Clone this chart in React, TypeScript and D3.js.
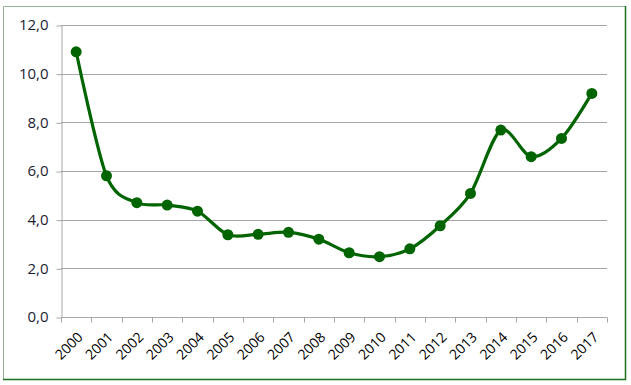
import React, { useEffect, useRef } from 'react';
import * as d3 from 'd3';

const years = ['2000', '2001', '2002', '2003', '2004', '2005', '2006', '2007', '2008',
  '2009', '2010', '2011', '2012', '2013', '2014', '2015', '2016', '2017'];
const values = [10.9, 5.8, 4.7, 4.6, 4.35, 3.38, 3.4, 3.48, 3.2,
  2.64, 2.48, 2.8, 3.75, 5.08, 7.68, 6.59, 7.34, 9.19];
const yTicks = [0, 2, 4, 6, 8, 10, 12];

const width = 631;
const height = 385;
const margin = { top: 25, right: 24, bottom: 68, left: 61 };

const App: React.FC = () => {
  const svgRef = useRef<SVGSVGElement>(null);

  useEffect(() => {
    if (!svgRef.current) return;
    const svg = d3.select(svgRef.current);
    svg.selectAll('*').remove();

    const innerWidth = width - margin.left - margin.right;
    const innerHeight = height - margin.top - margin.bottom;

    // frame
    svg.append('line').attr('x1', 3.5).attr('y1', 6.5).attr('x2', 625.5).attr('y2', 6.5)
      .attr('stroke', '#94b494').attr('stroke-width', 1);
    svg.append('line').attr('x1', 3.5).attr('y1', 6.5).attr('x2', 3.5).attr('y2', 379.5)
      .attr('stroke', '#94b494').attr('stroke-width', 1);
    svg.append('line').attr('x1', 625.5).attr('y1', 6).attr('x2', 625.5).attr('y2', 380)
      .attr('stroke', '#1f6f1f').attr('stroke-width', 1.5);
    svg.append('line').attr('x1', 3).attr('y1', 379.5).attr('x2', 626).attr('y2', 379.5)
      .attr('stroke', '#1f6f1f').attr('stroke-width', 1.5);

    const x = d3.scaleBand().domain(years).range([0, innerWidth]);
    const y = d3.scaleLinear().domain([0, 12]).range([innerHeight, 0]);

    const g = svg.append('g').attr('transform', `translate(${margin.left},${margin.top})`);

    // gridlines
    g.selectAll('.grid')
      .data(yTicks.filter(t => t > 0))
      .enter()
      .append('line')
      .attr('x1', 0)
      .attr('x2', innerWidth)
      .attr('y1', d => Math.round(y(d)) + 0.5)
      .attr('y2', d => Math.round(y(d)) + 0.5)
      .attr('stroke', '#a6a6a6')
      .attr('stroke-width', 1);

    // y axis
    const yAxis = g.append('g')
      .attr('transform', 'translate(0.5,0)')
      .call(d3.axisLeft(y).tickValues(yTicks).tickSize(5).tickSizeOuter(0)
        .tickFormat(d => d3.format('.1f')(d as number).replace('.', ',')));
    yAxis.select('.domain').attr('stroke', '#a6a6a6');
    yAxis.selectAll('.tick line').attr('stroke', '#a6a6a6')
      .attr('transform', 'translate(0,0.5)');
    yAxis.selectAll('.tick text')
      .attr('x', -13)
      .attr('fill', '#1c1c30')
      .style('font-family', 'Open Sans, sans-serif')
      .style('font-size', '15px');

    // x axis
    const xAxis = g.append('g')
      .attr('transform', `translate(0,${Math.round(innerHeight) + 0.5})`);
    xAxis.append('line').attr('x1', 0).attr('x2', innerWidth)
      .attr('stroke', '#a6a6a6');
    const bounds = years.map(yr => x(yr) as number).concat([innerWidth]);
    xAxis.selectAll('.xt')
      .data(bounds)
      .enter()
      .append('line')
      .attr('x1', d => Math.round(d) + 0.5)
      .attr('x2', d => Math.round(d) + 0.5)
      .attr('y1', 0)
      .attr('y2', 5)
      .attr('stroke', '#a6a6a6');
    xAxis.selectAll('.xl')
      .data(years)
      .enter()
      .append('text')
      .attr('transform', d => `translate(${(x(d) as number) + x.bandwidth() / 2 + 4},${17}) rotate(-45)`)
      .attr('text-anchor', 'end')
      .attr('dy', '0.35em')
      .attr('fill', '#000')
      .style('font-family', 'Open Sans, sans-serif')
      .style('font-size', '14px')
      .text(d => d);

    // line
    const line = d3.line<number>()
      .x((d, i) => (x(years[i]) as number) + x.bandwidth() / 2)
      .y(d => y(d))
      .curve(d3.curveCardinal.tension(0.1));

    g.append('path')
      .datum(values)
      .attr('d', line)
      .attr('fill', 'none')
      .attr('stroke', '#006400')
      .attr('stroke-width', 3.2);

    g.selectAll('.pt')
      .data(values)
      .enter()
      .append('circle')
      .attr('cx', (d, i) => (x(years[i]) as number) + x.bandwidth() / 2)
      .attr('cy', d => y(d))
      .attr('r', 5.5)
      .attr('fill', '#006400');
  }, []);

  return <svg ref={svgRef} width={width} height={height} style={{ position: 'absolute', left: 0, top: 0, background: '#fff' }} />;
};

export default App;
